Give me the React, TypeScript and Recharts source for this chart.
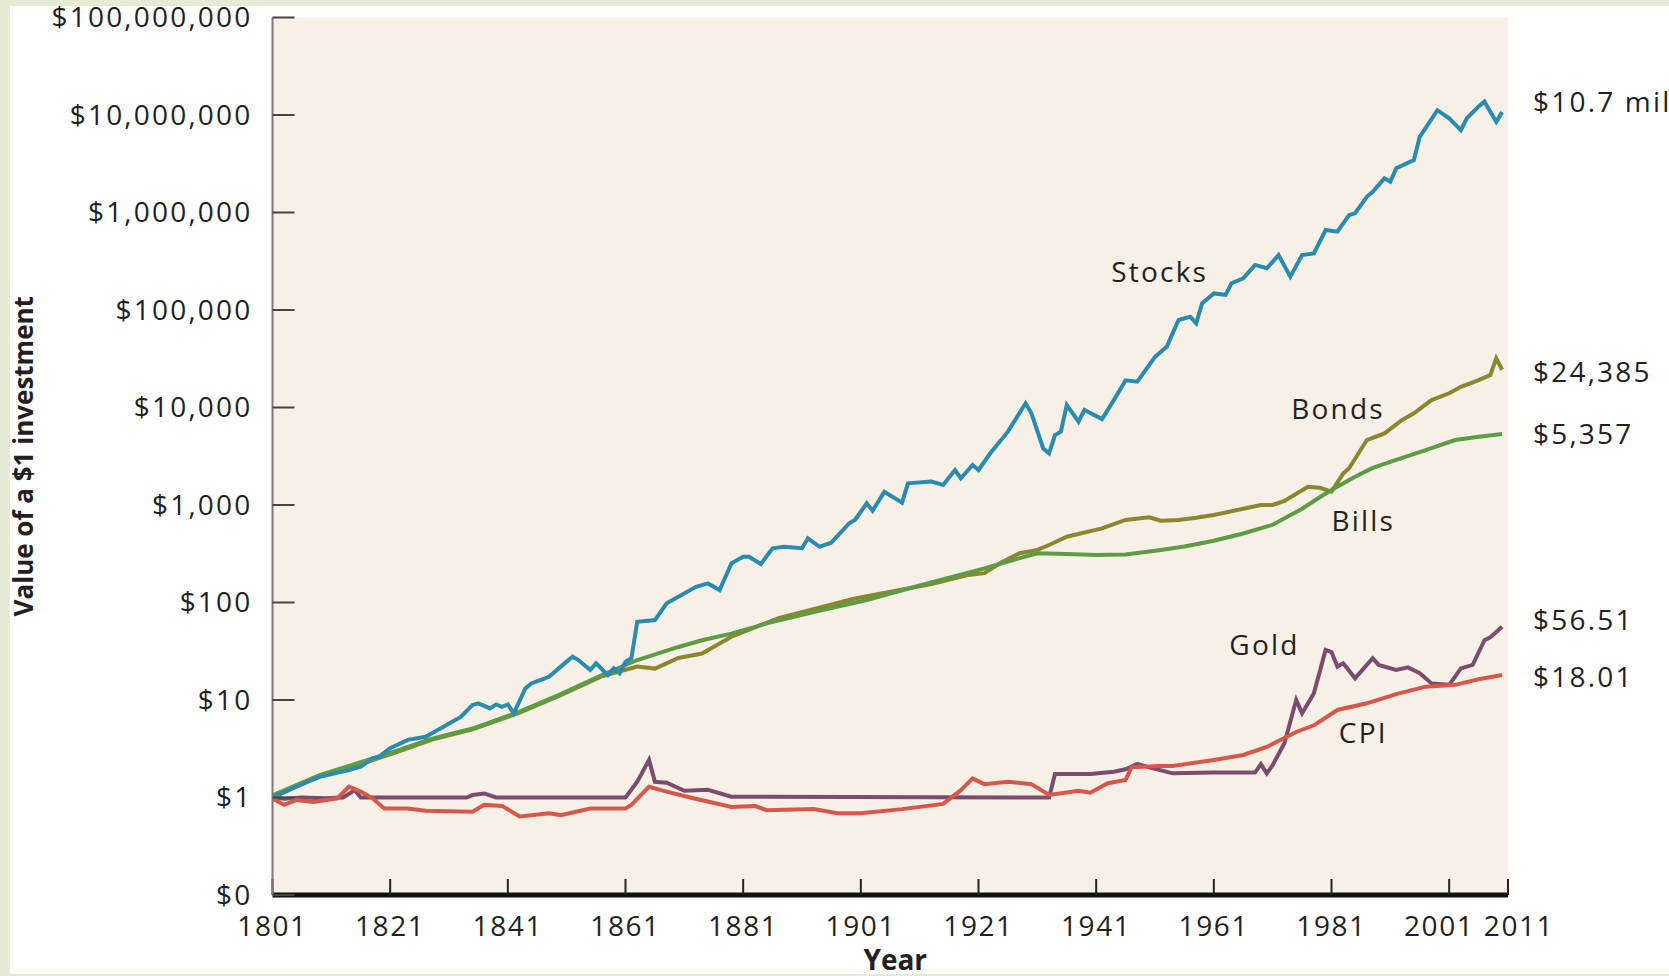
import React from "react";
import {
  LineChart,
  Line,
  XAxis,
  YAxis,
  CartesianGrid,
  ReferenceDot,
} from "recharts";

// value of $1 invested in 1801
const stocks = [
  { year: 1801, value: 1 }, { year: 1805, value: 1.29 }, { year: 1809, value: 1.63 },
  { year: 1814, value: 1.91 }, { year: 1816, value: 2.07 }, { year: 1818, value: 2.52 },
  { year: 1819, value: 2.6 }, { year: 1821, value: 3.2 }, { year: 1824, value: 3.9 },
  { year: 1827, value: 4.2 }, { year: 1830, value: 5.3 }, { year: 1832, value: 6.2 },
  { year: 1833, value: 6.7 }, { year: 1835, value: 8.9 }, { year: 1836, value: 9.25 },
  { year: 1838, value: 8.2 }, { year: 1839, value: 9.0 }, { year: 1840, value: 8.5 },
  { year: 1841, value: 9.0 }, { year: 1842, value: 7.3 }, { year: 1844, value: 13.2 },
  { year: 1845, value: 14.8 }, { year: 1848, value: 17.3 }, { year: 1850, value: 22 },
  { year: 1852, value: 27.8 }, { year: 1853, value: 25.7 }, { year: 1855, value: 20.3 },
  { year: 1856, value: 23.8 }, { year: 1858, value: 18 }, { year: 1859, value: 21.1 },
  { year: 1860, value: 18.8 }, { year: 1861, value: 24.7 }, { year: 1862, value: 26.8 },
  { year: 1863, value: 63.5 }, { year: 1866, value: 66 }, { year: 1868, value: 98 },
  { year: 1873, value: 145 }, { year: 1875, value: 157 }, { year: 1877, value: 134 },
  { year: 1879, value: 252 }, { year: 1881, value: 295 }, { year: 1882, value: 295 },
  { year: 1884, value: 248 }, { year: 1886, value: 360 }, { year: 1888, value: 373 },
  { year: 1891, value: 360 }, { year: 1892, value: 455 }, { year: 1894, value: 373 },
  { year: 1896, value: 411 }, { year: 1899, value: 649 }, { year: 1900, value: 702 },
  { year: 1902, value: 1040 }, { year: 1903, value: 873 }, { year: 1905, value: 1368 },
  { year: 1908, value: 1056 }, { year: 1909, value: 1668 }, { year: 1913, value: 1738 },
  { year: 1915, value: 1603 }, { year: 1917, value: 2286 }, { year: 1918, value: 1880 },
  { year: 1920, value: 2570 }, { year: 1921, value: 2286 }, { year: 1923, value: 3390 },
  { year: 1926, value: 5650 }, { year: 1929, value: 11040 }, { year: 1930, value: 8710 },
  { year: 1932, value: 3800 }, { year: 1933, value: 3390 }, { year: 1934, value: 5220 },
  { year: 1935, value: 5650 }, { year: 1936, value: 10600 }, { year: 1938, value: 7150 },
  { year: 1939, value: 9430 }, { year: 1942, value: 7600 }, { year: 1944, value: 11900 },
  { year: 1946, value: 19000 }, { year: 1948, value: 18400 }, { year: 1951, value: 33000 },
  { year: 1952, value: 37300 }, { year: 1953, value: 42000 }, { year: 1955, value: 78900 },
  { year: 1957, value: 85300 }, { year: 1958, value: 73100 }, { year: 1959, value: 117000 },
  { year: 1961, value: 148000 }, { year: 1963, value: 143000 }, { year: 1964, value: 188000 },
  { year: 1966, value: 211000 }, { year: 1968, value: 290000 }, { year: 1970, value: 268000 },
  { year: 1972, value: 366000 }, { year: 1974, value: 220000 }, { year: 1976, value: 366000 },
  { year: 1978, value: 381000 }, { year: 1980, value: 661000 }, { year: 1982, value: 636000 },
  { year: 1984, value: 942000 }, { year: 1985, value: 980000 }, { year: 1987, value: 1450000 },
  { year: 1988, value: 1630000 }, { year: 1990, value: 2240000 }, { year: 1991, value: 2070000 },
  { year: 1992, value: 2840000 }, { year: 1995, value: 3450000 }, { year: 1996, value: 5980000 },
  { year: 1999, value: 11200000 }, { year: 2001, value: 9250000 }, { year: 2003, value: 7000000 },
  { year: 2004, value: 9250000 }, { year: 2006, value: 12200000 }, { year: 2007, value: 13700000 },
  { year: 2009, value: 8500000 }, { year: 2010, value: 10700000 },
];

const bonds = [
  { year: 1801, value: 1 }, { year: 1809, value: 1.65 }, { year: 1816, value: 2.2 },
  { year: 1822, value: 2.9 }, { year: 1828, value: 3.9 }, { year: 1835, value: 5.0 },
  { year: 1843, value: 7.4 }, { year: 1850, value: 11.2 }, { year: 1857, value: 17.5 },
  { year: 1863, value: 22 }, { year: 1866, value: 21 }, { year: 1870, value: 27 },
  { year: 1874, value: 30 }, { year: 1879, value: 44.6 }, { year: 1887, value: 69 },
  { year: 1900, value: 110 }, { year: 1913, value: 155 }, { year: 1919, value: 190 },
  { year: 1922, value: 200 }, { year: 1925, value: 260 }, { year: 1928, value: 320 },
  { year: 1931, value: 346 }, { year: 1933, value: 389 }, { year: 1936, value: 473 },
  { year: 1942, value: 576 }, { year: 1946, value: 702 }, { year: 1950, value: 748 },
  { year: 1952, value: 690 }, { year: 1955, value: 700 }, { year: 1958, value: 740 },
  { year: 1961, value: 790 }, { year: 1966, value: 915 }, { year: 1969, value: 1000 },
  { year: 1971, value: 1000 }, { year: 1973, value: 1100 }, { year: 1977, value: 1540 },
  { year: 1979, value: 1500 }, { year: 1981, value: 1370 }, { year: 1983, value: 2110 },
  { year: 1984, value: 2380 }, { year: 1987, value: 4640 }, { year: 1990, value: 5430 },
  { year: 1993, value: 7450 }, { year: 1995, value: 8710 }, { year: 1998, value: 11900 },
  { year: 2001, value: 14000 }, { year: 2003, value: 16300 }, { year: 2006, value: 19100 },
  { year: 2008, value: 21500 }, { year: 2009, value: 32000 }, { year: 2010, value: 24385 },
];

const bills = [
  { year: 1801, value: 1.05 }, { year: 1809, value: 1.7 }, { year: 1816, value: 2.3 },
  { year: 1822, value: 3.0 }, { year: 1828, value: 4.0 }, { year: 1835, value: 5.1 },
  { year: 1843, value: 7.6 }, { year: 1850, value: 11.5 }, { year: 1857, value: 18 },
  { year: 1863, value: 25.7 }, { year: 1870, value: 35 }, { year: 1874, value: 41 },
  { year: 1879, value: 48 }, { year: 1885, value: 61 }, { year: 1893, value: 80 },
  { year: 1902, value: 106 }, { year: 1912, value: 155 }, { year: 1922, value: 224 },
  { year: 1928, value: 285 }, { year: 1931, value: 320 }, { year: 1936, value: 315 },
  { year: 1941, value: 307 }, { year: 1946, value: 310 }, { year: 1952, value: 346 },
  { year: 1956, value: 375 }, { year: 1961, value: 430 }, { year: 1966, value: 510 },
  { year: 1971, value: 627 }, { year: 1976, value: 915 }, { year: 1979, value: 1200 },
  { year: 1981, value: 1425 }, { year: 1985, value: 1950 }, { year: 1988, value: 2400 },
  { year: 1992, value: 2900 }, { year: 1997, value: 3660 }, { year: 2002, value: 4640 },
  { year: 2006, value: 5010 }, { year: 2010, value: 5357 },
];

const gold = [
  { year: 1801, value: 1 }, { year: 1803, value: 0.97 }, { year: 1806, value: 1.0 },
  { year: 1810, value: 0.98 }, { year: 1813, value: 1.0 }, { year: 1815, value: 1.19 },
  { year: 1816, value: 1.0 }, { year: 1834, value: 1.0 }, { year: 1835, value: 1.06 },
  { year: 1837, value: 1.1 }, { year: 1839, value: 1.0 }, { year: 1861, value: 1.0 },
  { year: 1863, value: 1.45 }, { year: 1865, value: 2.43 }, { year: 1866, value: 1.45 },
  { year: 1868, value: 1.42 }, { year: 1871, value: 1.17 }, { year: 1875, value: 1.2 },
  { year: 1879, value: 1.02 }, { year: 1933, value: 1.0 }, { year: 1934, value: 1.74 },
  { year: 1940, value: 1.74 }, { year: 1944, value: 1.84 }, { year: 1946, value: 1.95 },
  { year: 1948, value: 2.21 }, { year: 1950, value: 2.04 }, { year: 1954, value: 1.77 },
  { year: 1961, value: 1.8 }, { year: 1968, value: 1.8 }, { year: 1969, value: 2.2 },
  { year: 1970, value: 1.77 }, { year: 1971, value: 2.15 }, { year: 1973, value: 3.6 },
  { year: 1975, value: 10 }, { year: 1976, value: 7.3 }, { year: 1978, value: 11.7 },
  { year: 1980, value: 32.6 }, { year: 1981, value: 31 }, { year: 1982, value: 22 },
  { year: 1983, value: 23.8 }, { year: 1985, value: 16.7 }, { year: 1988, value: 26.8 },
  { year: 1989, value: 22.9 }, { year: 1992, value: 20.3 }, { year: 1994, value: 21.6 },
  { year: 1996, value: 18.8 }, { year: 1998, value: 14.8 }, { year: 2001, value: 14.3 },
  { year: 2003, value: 21.1 }, { year: 2005, value: 22.9 }, { year: 2007, value: 41 },
  { year: 2008, value: 44 }, { year: 2010, value: 56.51 },
];

const cpi = [
  { year: 1801, value: 0.97 }, { year: 1803, value: 0.84 }, { year: 1805, value: 0.94 },
  { year: 1808, value: 0.9 }, { year: 1812, value: 0.98 }, { year: 1814, value: 1.29 },
  { year: 1816, value: 1.15 }, { year: 1818, value: 0.98 }, { year: 1820, value: 0.77 },
  { year: 1824, value: 0.77 }, { year: 1827, value: 0.73 }, { year: 1835, value: 0.715 },
  { year: 1837, value: 0.84 }, { year: 1840, value: 0.82 }, { year: 1843, value: 0.64 },
  { year: 1848, value: 0.69 }, { year: 1850, value: 0.66 }, { year: 1855, value: 0.77 },
  { year: 1861, value: 0.77 }, { year: 1862, value: 0.84 }, { year: 1865, value: 1.29 },
  { year: 1868, value: 1.15 }, { year: 1872, value: 1.0 }, { year: 1879, value: 0.8 },
  { year: 1883, value: 0.82 }, { year: 1885, value: 0.74 }, { year: 1893, value: 0.76 },
  { year: 1897, value: 0.69 }, { year: 1901, value: 0.69 }, { year: 1908, value: 0.76 },
  { year: 1915, value: 0.86 }, { year: 1918, value: 1.19 }, { year: 1920, value: 1.57 },
  { year: 1922, value: 1.37 }, { year: 1926, value: 1.45 }, { year: 1930, value: 1.37 },
  { year: 1933, value: 1.06 }, { year: 1938, value: 1.17 }, { year: 1940, value: 1.12 },
  { year: 1943, value: 1.4 }, { year: 1946, value: 1.51 }, { year: 1947, value: 2.04 },
  { year: 1952, value: 2.1 }, { year: 1954, value: 2.1 }, { year: 1961, value: 2.43 },
  { year: 1966, value: 2.73 }, { year: 1970, value: 3.3 }, { year: 1975, value: 4.7 },
  { year: 1978, value: 5.5 }, { year: 1982, value: 7.9 }, { year: 1987, value: 9.25 },
  { year: 1992, value: 11.5 }, { year: 1997, value: 13.7 }, { year: 2002, value: 14.3 },
  { year: 2006, value: 16.3 }, { year: 2010, value: 18.01 },
];

const yearTicks = [1801, 1821, 1841, 1861, 1881, 1901, 1921, 1941, 1961, 1981, 2001, 2011];
const valueTicks = [0.1, 1, 10, 100, 1000, 10000, 100000, 1000000, 10000000, 100000000];

// final values printed right of the plot
const endLabels = [
  { text: "$10.7 mil", value: 10700000 },
  { text: "$24,385", value: 24385 },
  { text: "$5,357", value: 5357 },
  { text: "$56.51", value: 56.51 },
  { text: "$18.01", value: 18.01 },
];

// series names written inside the plot
const seriesLabels = [
  { text: "Stocks", year: 1951.8, value: 242600 },
  { text: "Bonds", year: 1982.1, value: 9720 },
  { text: "Bills", year: 1986.4, value: 676 },
  { text: "Gold", year: 1969.6, value: 36.6 },
  { text: "CPI", year: 1986.4, value: 4.54 },
];

const FONT = "'Open Sans', sans-serif";
const INK = "#231f20";
const FS = 28;
const LS = 2.2;
const endNudge = [-10, 2, 0, -6, 2];
// the last two year labels are pushed apart so they do not touch
const yearNudge: Record<number, number> = { 2001: -10, 2011: 11 };

const fmtValue = (v: number) => (v < 1 ? "$0" : "$" + v.toLocaleString("en-US"));

const YTick = ({ x, y, payload }: any) => (
  <text x={x} y={y} dy="0.35em" textAnchor="end" fill={INK} fontFamily={FONT} fontSize={FS} letterSpacing={LS}>
    {fmtValue(payload.value)}
  </text>
);

const XTick = ({ x, y, payload }: any) => (
  <text
    x={x + (yearNudge[payload.value] || 0)}
    y={y}
    dy="0.71em"
    textAnchor="middle"
    fill={INK}
    fontFamily={FONT}
    fontSize={FS}
    letterSpacing={1.6}
  >
    {payload.value}
  </text>
);

const textLabel = (text: string, dx: number, dy: number, anchor: string) => (props: any) => {
  const vb = props.viewBox;
  return (
    <text
      x={vb.x + vb.width / 2 + dx}
      y={vb.y + vb.height / 2 + dy}
      dy="0.35em"
      textAnchor={anchor}
      fill={INK}
      fontFamily={FONT}
      fontSize={FS}
      letterSpacing={LS}
    >
      {text}
    </text>
  );
};

export default function App() {
  return (
    <div style={{ position: "absolute", left: 0, top: 0, width: 1669, height: 976, background: "#e6ebd5" }}>
      <div style={{ position: "absolute", left: 10, top: 6, width: 1659, height: 968, background: "#ffffff" }} />
      <div style={{ position: "absolute", left: 0, top: 0 }}>
        <LineChart width={1669} height={976} margin={{ top: 17.5, right: 161, bottom: 0, left: 0 }}>
          <CartesianGrid fill="#f6f0e6" stroke="none" horizontal={false} vertical={false} />
          <XAxis
            dataKey="year"
            type="number"
            domain={[1801, 2011]}
            ticks={yearTicks}
            height={81}
            axisLine={{ stroke: "#111", strokeWidth: 5 }}
            tickLine={{ stroke: "#222", strokeWidth: 2 }}
            tickSize={-16}
            tickMargin={37}
            tick={<XTick />}
            allowDuplicatedCategory={false}
            label={{
              value: "Year",
              position: "insideBottom",
              offset: 6,
              dx: 5,
              fill: INK,
              fontFamily: FONT,
              fontWeight: 700,
              fontSize: 28,
            }}
          />
          <YAxis
            dataKey="value"
            type="number"
            scale="log"
            domain={[0.1, 100000000]}
            allowDataOverflow
            ticks={valueTicks}
            width={272.5}
            axisLine={{ stroke: "#7a7a7a", strokeWidth: 2 }}
            tickLine={{ stroke: "#444", strokeWidth: 2 }}
            tickSize={-22}
            tickMargin={42}
            tick={<YTick />}
            label={{
              value: "Value of a $1 investment",
              angle: -90,
              position: "insideLeft",
              offset: 24,
              fill: INK,
              fontFamily: FONT,
              fontWeight: 700,
              fontSize: 26,
              style: { textAnchor: "middle" },
            }}
          />
          <Line data={gold} dataKey="value" name="Gold" stroke="#7b4c6e" strokeWidth={4} dot={false} type="linear" isAnimationActive={false} />
          <Line data={cpi} dataKey="value" name="CPI" stroke="#d9564a" strokeWidth={4} dot={false} type="linear" isAnimationActive={false} />
          <Line data={bonds} dataKey="value" name="Bonds" stroke="#8c872d" strokeWidth={4} dot={false} type="linear" isAnimationActive={false} />
          <Line data={bills} dataKey="value" name="Bills" stroke="#5c9c46" strokeWidth={4} dot={false} type="linear" isAnimationActive={false} />
          <Line data={stocks} dataKey="value" name="Stocks" stroke="#2a8bb0" strokeWidth={4} dot={false} type="linear" isAnimationActive={false} />
          {endLabels.map((l, i) => (
            <ReferenceDot
              key={l.text}
              x={2011}
              y={l.value}
              r={1}
              fill="none"
              stroke="none"
              ifOverflow="visible"
              label={textLabel(l.text, 25, endNudge[i], "start")}
            />
          ))}
          {seriesLabels.map((l) => (
            <ReferenceDot
              key={l.text}
              x={l.year}
              y={l.value}
              r={1}
              fill="none"
              stroke="none"
              ifOverflow="visible"
              label={textLabel(l.text, 0, 0, "middle")}
            />
          ))}
        </LineChart>
      </div>
    </div>
  );
}
